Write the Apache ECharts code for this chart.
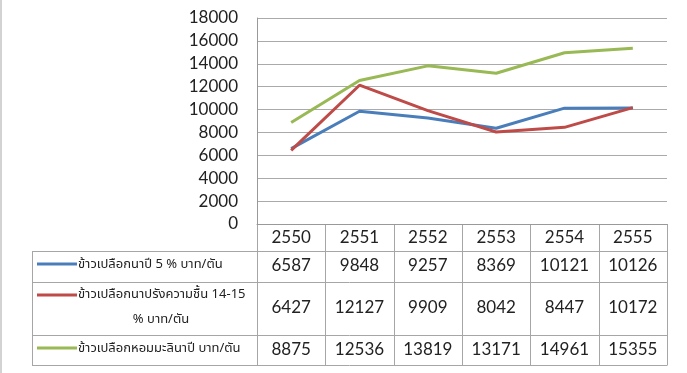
<!DOCTYPE html>
<html><head><meta charset="utf-8">
<script src="https://cdn.jsdelivr.net/npm/echarts@6/dist/echarts.min.js"></script>
<style>html,body{margin:0;padding:0;background:#fff}#c{width:687px;height:373px}</style>
</head><body><div id="c"></div>
<script>
const years = ['2550','2551','2552','2553','2554','2555'];
const seriesNames = ['ข้าวเปลือกนาปี 5 % บาท/ตัน', 'ข้าวเปลือกนาปรังความชื้น 14-15 % บาท/ตัน', 'ข้าวเปลือกหอมมะลินาปี บาท/ตัน'];
const labelLines = [['ข้าวเปลือกนาปี 5 % บาท/ตัน'], ['ข้าวเปลือกนาปรังความชื้น 14-15', '% บาท/ตัน'], ['ข้าวเปลือกหอมมะลินาปี บาท/ตัน']];
const rice5 = [6587, 9848, 9257, 8369, 10121, 10126];
const riceOffSeason = [6427, 12127, 9909, 8042, 8447, 10172];
const jasmine = [8875, 12536, 13819, 13171, 14961, 15355];
const colors = ['#4a7ebb', '#be4b48', '#98b954'];
const yMin = 0, yMax = 18000, yStep = 2000;

const FONT = "Lato, 'Liberation Sans', Arial, sans-serif";
const THAI = "Tahoma, 'Noto Sans Thai', 'Noto Sans', 'DejaVu Sans', sans-serif";
const allData = [rice5, riceOffSeason, jasmine];

const chart = echarts.init(document.getElementById('c'), null, {renderer: 'canvas'});
chart.setOption({
  animation: false,
  grid: {left: 257, right: 20, top: 18, bottom: 149},
  xAxis: {
    type: 'category', data: years, boundaryGap: true,
    axisLine: {lineStyle: {color: '#999'}}, axisTick: {show: false},
    axisLabel: {fontSize: 17, color: '#222', margin: 14, verticalAlign: 'middle', fontFamily: FONT}
  },
  yAxis: {
    type: 'value', min: yMin, max: yMax, interval: yStep,
    axisLine: {show: true, lineStyle: {color: '#999'}}, axisTick: {show: false},
    splitLine: {lineStyle: {color: '#aaa'}},
    axisLabel: {fontSize: 17, color: '#222', margin: 19, fontFamily: FONT, formatter: v => String(v)}
  },
  series: allData.map((d, i) => ({
    type: 'line', name: seriesNames[i], data: d, symbol: 'none',
    lineStyle: {width: 3, color: colors[i]}, itemStyle: {color: colors[i]}
  }))
});

// table under the plot
const c0 = chart.convertToPixel({xAxisIndex: 0}, 0);
const c1 = chart.convertToPixel({xAxisIndex: 0}, 1);
const band = c1 - c0;
const tableLeft = 32;
const axisY = chart.convertToPixel({yAxisIndex: 0}, 0);
const rowEdges = [251, 282, 335, 365];
const rowCenters = [266, 308, 350];
const g = [];
const ln = (x1, y1, x2, y2) => g.push({type: 'line', silent: true, shape: {x1, y1, x2, y2}, style: {stroke: '#a6a6a6', lineWidth: 1}});
rowEdges.forEach(y => ln(tableLeft, y + 0.5, c0 - band / 2 + band * years.length, y + 0.5));
for (let k = 0; k <= years.length; k++) {
  const x = Math.round(c0 - band / 2 + band * k) + 0.5;
  ln(x, axisY, x, rowEdges[3] + 0.5);
}
ln(tableLeft + 0.5, rowEdges[0], tableLeft + 0.5, rowEdges[3] + 0.5);
ln(1, 0, 1, 373);
allData.forEach((d, i) => {
  d.forEach((v, j) => {
    g.push({type: 'text', silent: true, x: chart.convertToPixel({xAxisIndex: 0}, j), y: rowCenters[i],
      style: {text: String(v), font: '17px ' + FONT, fill: '#222', align: 'center', verticalAlign: 'middle'}});
  });
});
const swY = [264, 295, 348];
const txY = [[265], [295, 320], [349]];
labelLines.forEach((lines, i) => {
  g.push({type: 'line', silent: true, shape: {x1: 37, y1: swY[i], x2: 77, y2: swY[i]}, style: {stroke: colors[i], lineWidth: 3}});
  lines.forEach((t, k) => {
    g.push({type: 'text', silent: true, x: k === 0 ? 78 : 161, y: txY[i][k],
      style: {text: t, font: '13px ' + THAI, fill: '#222', align: k === 0 ? 'left' : 'center', verticalAlign: 'middle'}});
  });
});
chart.setOption({graphic: g});
</script></body></html>
